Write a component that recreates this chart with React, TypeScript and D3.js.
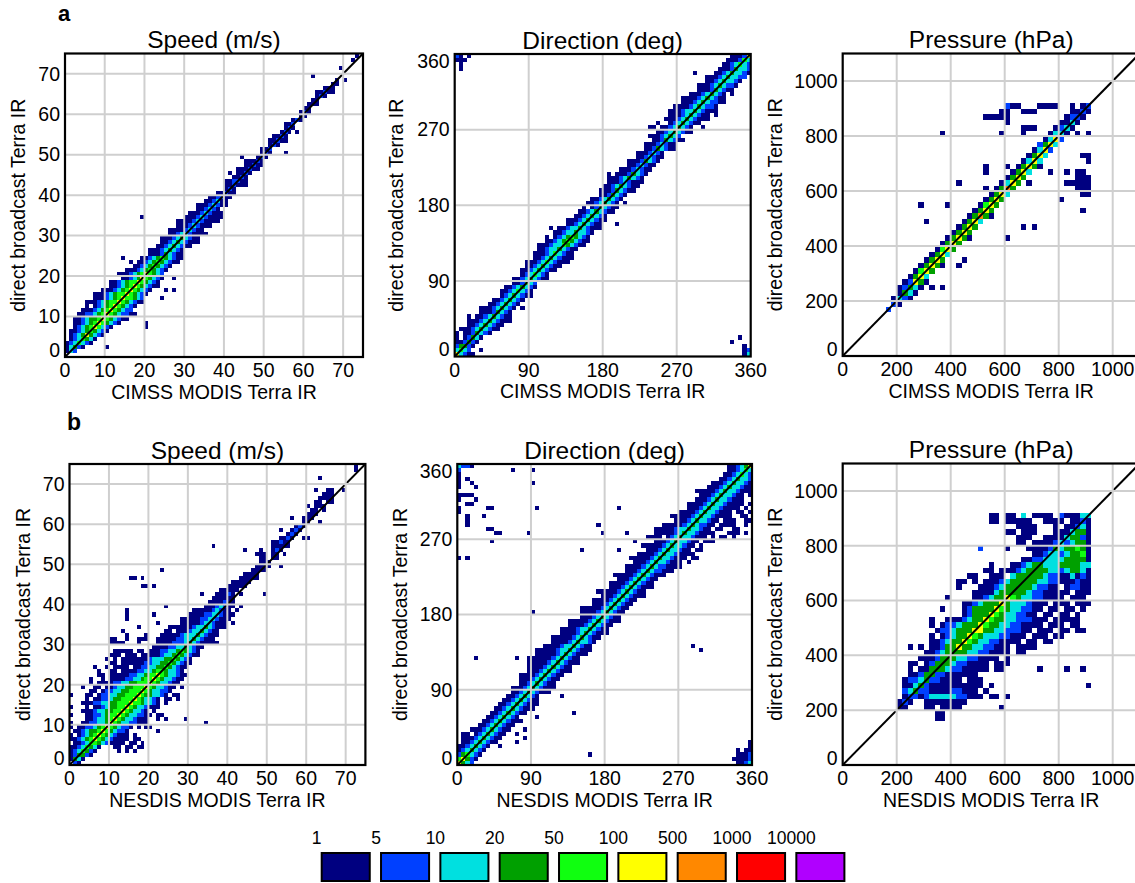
import React from "react";
import * as d3 from "d3";

type Run = [number, number, string];

const levelColors = ["#000080", "#0040ff", "#00e0e0", "#00a000", "#10ff10", "#ffff00", "#ff8800", "#ff0000", "#b000ff"];
const legendLabels = ["1", "5", "10", "20", "50", "100", "500", "1000", "10000"];

const speedTicks = [0, 10, 20, 30, 40, 50, 60, 70];
const directionTicks = [0, 90, 180, 270, 360];
const pressureTicks = [0, 200, 400, 600, 800, 1000];

// [row bin, first column bin, level codes (0 = empty, 1..9 = legend class)]
const cimssSpeed: Run[] = [
  [1, 0, "132"], [2, 0, "13421"], [2, 10, "1"], [3, 0, "1235321"], [4, 1, "1235431"], [5, 1, "123464321"],
  [6, 1, "1123454321"], [7, 2, "1234565321"], [7, 20, "1"], [8, 2, "112345654321"], [8, 20, "1"],
  [9, 2, "11234456543211"], [10, 3, "112234565432211"], [11, 4, "1112345654322"], [12, 5, "1012345654321"],
  [13, 5, "111234556543211"], [14, 7, "1112345655432"], [14, 24, "1"], [15, 7, "11123455654321"],
  [16, 9, "1112345654321000101"], [17, 11, "1123456543211"], [18, 11, "1123455654321"],
  [19, 14, "11234654321001"], [20, 13, "111234565432"], [21, 15, "11123454321"], [22, 17, "1123454321"],
  [23, 16, "1011234543211"], [24, 14, "1000011234543211"], [25, 21, "111243211"], [26, 21, "111234321"],
  [27, 23, "112343211"], [28, 24, "1123432111"], [29, 24, "1112343211"], [30, 26, "1123321111"],
  [31, 26, "111123211"], [32, 28, "111232111"], [33, 28, "11112321111"], [34, 19, "100000000001112321111"],
  [35, 31, "111232111"], [36, 33, "112321"], [37, 33, "11123211"], [38, 35, "112311"], [39, 36, "112211"],
  [40, 38, "11211"], [41, 40, "121"], [42, 40, "112111"], [43, 40, "112211"], [44, 42, "1121"],
  [45, 41, "101121"], [46, 43, "111211"], [47, 45, "11211"], [48, 45, "11121"], [49, 44, "1000121"],
  [50, 49, "121"], [50, 55, "1"], [51, 49, "112"], [52, 51, "121"], [53, 51, "11211"], [54, 52, "1121"],
  [55, 54, "12101"], [56, 55, "121"], [57, 55, "112"], [58, 57, "121"], [59, 59, "11"], [60, 59, "121"],
  [61, 60, "11"], [62, 61, "111"], [63, 62, "11"], [64, 63, "121"], [65, 63, "11211"], [66, 65, "111"],
  [67, 67, "11"], [68, 68, "101"], [69, 62, "1"], [71, 69, "1"], [73, 72, "1"], [74, 73, "1"],
];

const cimssDirection: Run[] = [
  [0, 0, "63211"], [0, 70, "13"], [1, 0, "3532"], [1, 6, "1"], [1, 70, "12"], [2, 0, "24421"], [2, 70, "1"],
  [3, 0, "112421"], [3, 67, "1"], [4, 0, "1012431"], [4, 69, "1"], [5, 0, "101124321"], [6, 1, "1112343211"],
  [7, 3, "112343211"], [8, 3, "11123432111"], [9, 3, "10112343211"], [10, 6, "11124321"], [11, 6, "11123432101"],
  [12, 8, "11234321"], [13, 9, "11234321"], [14, 11, "12343211"], [15, 11, "11235321"], [16, 12, "11234321"],
  [17, 14, "112532"], [18, 14, "112343211"], [19, 16, "1235321"], [20, 16, "112343211"], [21, 17, "112343211"],
  [22, 17, "11123532111"], [23, 19, "1123432111"], [24, 19, "1112353211"], [25, 20, "1123343211"],
  [26, 20, "111233543211"], [27, 22, "11234543211"], [28, 22, "10123454321"], [29, 24, "1123343321"],
  [30, 23, "1011233432111"], [31, 27, "1123432110001"], [32, 27, "1112343211"], [33, 29, "11234321"],
  [34, 30, "112343211"], [35, 31, "101243211"], [36, 32, "1123432101"], [37, 33, "11234321"], [38, 35, "1124321"],
  [39, 35, "111243211"], [40, 36, "112343211"], [41, 37, "111232111"], [42, 37, "111234321"],
  [43, 37, "1011124321"], [44, 40, "11123211"], [45, 42, "1123211"], [46, 42, "11124321"], [47, 44, "1123211"],
  [48, 44, "1112321"], [49, 46, "11243211"], [50, 46, "11123211"], [51, 48, "11243211"], [52, 47, "11123432"],
  [53, 49, "112343211"], [54, 47, "11011234321001"], [55, 49, "10012343211"], [56, 51, "11123432111"],
  [57, 52, "111234321101"], [58, 52, "111233432111"], [59, 53, "11112343221"], [60, 55, "11123432211"],
  [61, 55, "11112343211"], [62, 57, "11123432101"], [63, 59, "111243211"], [64, 59, "1112343221"],
  [65, 61, "112343321"], [66, 61, "1112343322"], [67, 58, "10000112343321"], [68, 64, "11124332"], [68, 1, "1"],
  [69, 65, "1123532"], [69, 1, "1"], [70, 66, "111253"], [70, 0, "111"], [71, 67, "11126"], [71, 0, "2101"],
];

const cimssPressure: Run[] = [
  [8, 8, "2"], [9, 9, "21"], [10, 9, "1321"], [11, 10, "1431"], [12, 10, "12431"], [12, 16, "1"], [12, 18, "1"],
  [13, 11, "12641"], [14, 12, "1463"], [15, 13, "1564"], [16, 14, "14641"], [16, 21, "1"], [17, 15, "1464"],
  [17, 22, "1"], [18, 16, "1463"], [19, 17, "1564"], [20, 18, "1464"], [21, 19, "14641"], [21, 30, "1"],
  [22, 20, "1464"], [23, 21, "1464"], [23, 33, "101"], [24, 22, "1463"], [24, 15, "1"], [25, 23, "14741"],
  [26, 24, "1464"], [26, 44, "1"], [27, 25, "1564"], [27, 14, "1"], [27, 19, "1"], [28, 26, "1464"], [28, 40, "1"],
  [29, 27, "1463"], [29, 44, "11"], [30, 28, "1474"], [30, 26, "1"], [30, 43, "111"], [31, 21, "1"],
  [31, 29, "1364"], [31, 34, "1"], [31, 41, "11111"], [32, 30, "1464"], [32, 43, "111"], [33, 31, "1463"],
  [33, 26, "1"], [33, 38, "1"], [33, 41, "1011"], [34, 32, "1464"], [34, 26, "1"], [34, 30, "1"], [34, 36, "1"],
  [35, 33, "1363"], [35, 45, "1"], [36, 34, "1463"], [36, 44, "11"], [37, 35, "1362"], [38, 36, "2463"],
  [39, 37, "1362"], [40, 38, "1331"], [40, 18, "1"], [40, 29, "1"], [40, 33, "1"], [40, 43, "101"],
  [41, 39, "1231"], [41, 33, "111"], [42, 40, "1131"], [42, 30, "1"], [43, 41, "1221"], [43, 26, "11"],
  [43, 28, "111"], [44, 42, "1121"], [44, 29, "11"], [44, 33, "111"], [45, 30, "211"], [45, 36, "111"],
  [45, 39, "1"], [45, 42, "1"], [45, 44, "12"],
];

const nesdisSpeed: Run[] = [
  [0, 1, "21"], [1, 0, "1431"], [2, 0, "124421"], [3, 0, "1235421"], [3, 12, "10101"], [4, 0, "11235431"],
  [4, 11, "11011011"], [5, 1, "1123554321"], [5, 11, "11101101"], [6, 0, "11234565432"], [6, 11, "1111011"],
  [7, 0, "1012345654321"], [7, 13, "1101"], [8, 1, "11234456543221"], [8, 22, "1"], [9, 0, "1"],
  [9, 2, "1122345654322101"], [9, 19, "11"], [10, 0, "1"], [10, 3, "11223346543322111"], [10, 34, "1"],
  [11, 4, "1123345654332111"], [11, 22, "101"], [11, 29, "1"], [12, 0, "1"], [12, 4, "11223455654332211"],
  [12, 22, "11"], [13, 3, "1112334455654332101"], [14, 0, "1"], [14, 4, "1011234455654332111"],
  [15, 3, "1112233445556554332101"], [16, 4, "1011223445556543321"], [16, 24, "1101"], [17, 0, "1"],
  [17, 4, "110122334455565443321011"], [18, 5, "110122334455565433221"], [19, 3, "1"],
  [19, 6, "11011233445556543321101"], [20, 5, "10111122334455565433211"], [21, 5, "1"],
  [21, 8, "101111223345565433211"], [22, 7, "11011111223345565433211"], [23, 7, "1"],
  [23, 10, "1101111223345543321"], [24, 6, "1"], [24, 9, "101111011223344543211"],
  [25, 10, "110111111223344543211"], [26, 9, "1"], [26, 11, "10111111123334454321"],
  [27, 10, "11101110111112334543211"], [28, 11, "11111011"], [28, 20, "1112233454321"],
  [29, 21, "1111223343211"], [30, 10, "1111"], [30, 17, "1"], [30, 22, "1111222343211111"], [31, 10, "11"],
  [31, 14, "1"], [31, 17, "111"], [31, 22, "111112233432111"], [32, 14, "1"], [32, 19, "1"],
  [32, 23, "111112333432111"], [33, 13, "1"], [33, 24, "11011123343211"], [34, 17, "1"],
  [34, 25, "111111233432111"], [35, 22, "1"], [35, 28, "11111233211101"], [36, 14, "1"],
  [36, 28, "1111122332111"], [37, 14, "1"], [37, 21, "1"], [37, 30, "111122332111"], [38, 14, "1"],
  [38, 31, "111112321101"], [39, 24, "1"], [39, 34, "1112321101"], [40, 35, "1111211"], [41, 36, "111111"],
  [42, 33, "1"], [42, 37, "1112101"], [42, 49, "1"], [43, 38, "11111"], [44, 18, "11"], [44, 21, "1"],
  [44, 40, "11111"], [45, 41, "11111"], [46, 15, "11"], [46, 18, "1"], [46, 43, "11111"], [47, 44, "1111"],
  [48, 23, "1"], [48, 46, "1111"], [49, 47, "1111"], [49, 53, "1"], [50, 48, "111"], [51, 48, "11011"],
  [52, 47, "111"], [52, 51, "11"], [52, 54, "1"], [53, 44, "1"], [53, 48, "1"], [53, 51, "121"], [54, 36, "1"],
  [54, 51, "11111"], [55, 51, "11211"], [56, 53, "1121"], [56, 59, "11"], [57, 55, "121"], [58, 53, "1"],
  [58, 56, "121"], [59, 57, "121"], [60, 59, "11"], [60, 63, "1"], [61, 56, "1"], [61, 59, "111"],
  [62, 60, "111"], [63, 61, "11"], [63, 64, "1"], [64, 60, "1"], [64, 62, "111"], [65, 62, "1101"],
  [65, 66, "1"], [66, 63, "1111"], [67, 64, "111"], [68, 62, "1"], [68, 65, "11"], [68, 69, "1"],
  [71, 63, "1"], [73, 72, "1"], [74, 72, "1"],
];

const nesdisDirection: Run[] = [
  [0, 0, "6432"], [0, 68, "1123"], [1, 0, "56421"], [1, 67, "11112"], [2, 0, "245321"], [2, 68, "1112"],
  [2, 32, "1"], [3, 0, "1234321"], [3, 68, "1011"], [4, 0, "11234321"], [4, 10, "1"], [4, 71, "1"],
  [5, 1, "112343211"], [5, 14, "1"], [5, 71, "1"], [6, 1, "1112343211"], [6, 16, "1"], [7, 1, "11012343211"],
  [7, 14, "1"], [8, 3, "1112343211"], [8, 16, "1"], [9, 5, "112343211"], [10, 6, "1123432111"],
  [11, 7, "11234321"], [11, 19, "1"], [12, 8, "112343211"], [12, 28, "1"], [13, 9, "1123432111"],
  [14, 10, "1123432111"], [15, 11, "112343211"], [16, 12, "11234321"], [16, 25, "1"], [17, 13, "1123432111"],
  [18, 13, "11123432111"], [19, 15, "112343211"], [20, 15, "1112343211"], [21, 15, "11112343211"],
  [22, 17, "11123432111"], [23, 17, "11112343211"], [24, 17, "1111123432111"], [25, 17, "1111112343211"],
  [25, 4, "1"], [25, 14, "1"], [26, 19, "1111123432111"], [27, 19, "11111233432111"], [27, 59, "1"],
  [28, 21, "111123343211"], [28, 57, "1"], [29, 23, "11112343321"], [30, 23, "111112343211"],
  [31, 25, "111123432111"], [32, 25, "111123343211"], [33, 27, "11112343211"], [34, 27, "1111123432111"],
  [35, 30, "1112343211"], [36, 30, "11112343211"], [36, 18, "1"], [37, 30, "111112343211"],
  [38, 33, "1112343211"], [39, 33, "11112343211"], [40, 35, "11123432111"], [41, 34, "111112343211"],
  [42, 37, "11123432111"], [43, 37, "11112343211"], [44, 39, "1112343211"], [45, 38, "1111123432111"],
  [46, 41, "111234322111"], [47, 41, "11112343221111"], [48, 43, "11123433211101"],
  [49, 42, "11111234332111011"], [49, 0, "1"], [49, 2, "1"], [50, 44, "11112343321111"],
  [51, 46, "11123433211011"], [51, 30, "1"], [51, 39, "1"], [52, 45, "111112343321101"],
  [53, 48, "111234332110111"], [53, 8, "1"], [53, 43, "1"], [54, 46, "11110123433211101"], [54, 64, "1101"],
  [55, 48, "111112343321111"], [55, 9, "11"], [55, 17, "1"], [55, 35, "1"], [55, 41, "1"], [55, 66, "111"],
  [55, 70, "1"], [56, 48, "11111233433211011"], [56, 7, "11"], [56, 67, "11"], [57, 50, "111112343221101111"],
  [57, 34, "1"], [57, 2, "1"], [57, 70, "1"], [58, 53, "111234332110111"], [58, 2, "1"], [58, 70, "11"],
  [59, 52, "111112343321111"], [59, 2, "1"], [59, 6, "1"], [59, 69, "11"], [60, 54, "1111234332111011"],
  [60, 0, "1"], [60, 71, "1"], [61, 56, "1112343321111"], [61, 0, "1"], [61, 7, "11"], [61, 19, "1"],
  [61, 39, "1"], [61, 70, "1"], [62, 56, "11112343321111"], [62, 2, "11"], [62, 71, "1"],
  [63, 58, "111234332111"], [63, 4, "1"], [63, 0, "1"], [64, 59, "11123433211"], [64, 0, "1111"], [64, 71, "1"],
  [65, 58, "11111234332111"], [66, 61, "11123433211"], [66, 0, "1"], [66, 4, "1"], [67, 62, "1112343321"],
  [67, 0, "1"], [67, 3, "1"], [67, 18, "1"], [68, 64, "11234332"], [68, 0, "1"], [68, 2, "1"],
  [69, 65, "1123532"], [69, 0, "1"], [70, 66, "112353"], [70, 0, "2"], [70, 13, "1"], [70, 18, "1"],
  [71, 66, "112346"], [71, 0, "3221"],
];

const nesdisPressure: Run[] = [
  [8, 17, "11"], [9, 17, "11"], [10, 10, "11000110111100000001"], [11, 10, "1210011111111"],
  [12, 11, "12212333332211101101"], [13, 11, "2342211112211101"], [14, 11, "11342111111111101"], [14, 45, "1"],
  [15, 11, "122342211110111"], [16, 12, "1124422111111"], [17, 12, "101144432211111011"], [17, 36, "1"],
  [17, 41, "1"], [17, 44, "1"], [18, 12, "1101244432211110111"], [19, 14, "11124443322111101"],
  [20, 15, "1123444433221111011"], [21, 12, "1"], [21, 14, "1011244644332211101111"],
  [22, 16, "11234465433221111011011"], [23, 16, "1012344654333221110111011"],
  [24, 17, "1223444664433222110111011011"], [25, 16, "1012234446544332211110111011"], [26, 16, "1"],
  [26, 19, "1112344654433222111011111"], [27, 22, "1244465433221101101101"],
  [28, 18, "100012444465433221101101101"], [29, 22, "112344464333211101110111"], [30, 19, "1"],
  [30, 24, "112344654332211110111"], [31, 24, "1111344444322111110111"], [32, 21, "1000111234444432211012211"],
  [33, 21, "1101011123444443322111211"], [34, 23, "11001110344444322113121"], [35, 26, "11"],
  [35, 29, "11123444433234431"], [36, 27, "1"], [36, 31, "112344333444433"], [37, 33, "1122333344441"],
  [38, 35, "11233234451"], [39, 25, "2"], [39, 30, "1"], [39, 34, "111124344541"], [40, 32, "11011112323441"],
  [41, 32, "11100111134421"], [42, 30, "11"], [42, 33, "1110001113441"], [43, 32, "11110001011231"],
  [44, 27, "11"], [44, 30, "1111100111101121"], [45, 27, "1101103011110211133"],
];

const FONT = "'Liberation Sans', Arial, Helvetica, sans-serif";

interface PanelSpec {
  data: Run[];
  bin: number;
  max: number;
  ticks: number[];
  title: string;
  xLabel: string;
  box: [number, number, number, number];
  yLabelOffset: number;
}

const panelSpecs: PanelSpec[] = [
  { data: cimssSpeed, bin: 1, max: 75, ticks: speedTicks, title: "Speed (m/s)", xLabel: "CIMSS MODIS Terra IR", box: [65, 363, 53.5, 357], yLabelOffset: 40 },
  { data: cimssDirection, bin: 5, max: 360, ticks: directionTicks, title: "Direction (deg)", xLabel: "CIMSS MODIS Terra IR", box: [454.7, 750.7, 54, 356.5], yLabelOffset: 51.4 },
  { data: cimssPressure, bin: 20, max: 1100, ticks: pressureTicks, title: "Pressure (hPa)", xLabel: "CIMSS MODIS Terra IR", box: [842.7, 1139.7, 53.5, 356], yLabelOffset: 61 },
  { data: nesdisSpeed, bin: 1, max: 75, ticks: speedTicks, title: "Speed (m/s)", xLabel: "NESDIS MODIS Terra IR", box: [69.5, 365.4, 464, 765], yLabelOffset: 39.5 },
  { data: nesdisDirection, bin: 5, max: 360, ticks: directionTicks, title: "Direction (deg)", xLabel: "NESDIS MODIS Terra IR", box: [457.3, 752, 464, 765], yLabelOffset: 50.6 },
  { data: nesdisPressure, bin: 20, max: 1100, ticks: pressureTicks, title: "Pressure (hPa)", xLabel: "NESDIS MODIS Terra IR", box: [842.7, 1139.7, 463.5, 765], yLabelOffset: 61 },
];

const color = d3.scaleOrdinal<string, string>().domain(["1", "2", "3", "4", "5", "6", "7", "8", "9"]).range(levelColors);

function Panel({ spec, id }: { spec: PanelSpec; id: number }) {
  const [x0, x1, y0, y1] = spec.box;
  const x = d3.scaleLinear().domain([0, spec.max]).range([x0, x1]);
  const y = d3.scaleLinear().domain([0, spec.max]).range([y1, y0]);
  const rects: React.ReactElement[] = [];
  spec.data.forEach(([row, start, codes], i) => {
    for (let k = 0; k < codes.length; k++) {
      const c = codes[k];
      if (c === "0") continue;
      const col = start + k;
      const xa = x(col * spec.bin);
      const xb = x((col + 1) * spec.bin);
      const ya = y((row + 1) * spec.bin);
      const yb = y(row * spec.bin);
      rects.push(<rect key={`${i}-${k}`} x={xa} y={ya} width={xb - xa} height={yb - ya} fill={color(c)} />);
    }
  });
  const inner = spec.ticks.filter((t) => t > 0 && t < spec.max);
  const cy = (y0 + y1) / 2;
  const cx = (x0 + x1) / 2;
  return (
    <g>
      <defs>
        <clipPath id={`clip${id}`}>
          <rect x={x0} y={y0} width={x1 - x0} height={y1 - y0} />
        </clipPath>
      </defs>
      <g clipPath={`url(#clip${id})`}>
        <g shapeRendering="crispEdges">{rects}</g>
        <line x1={x(0)} y1={y(0)} x2={x(spec.max)} y2={y(spec.max)} stroke="#000" strokeWidth={2} />
        {inner.map((t) => (
          <line key={`gx${t}`} x1={x(t)} x2={x(t)} y1={y0} y2={y1} stroke="#cfcfcf" strokeWidth={2} />
        ))}
        {inner.map((t) => (
          <line key={`gy${t}`} y1={y(t)} y2={y(t)} x1={x0} x2={x1} stroke="#cfcfcf" strokeWidth={2} />
        ))}
      </g>
      <rect x={x0} y={y0} width={x1 - x0} height={y1 - y0} fill="none" stroke="#000" strokeWidth={2.2} />
      <text x={cx} y={y0 - 5.5} textAnchor="middle" fontSize={24.5} fontFamily={FONT}>{spec.title}</text>
      {spec.ticks.map((t) => (
        <text key={`tx${t}`} x={x(t)} y={y1 + 20} textAnchor="middle" fontSize={19.5} fontFamily={FONT}>{t}</text>
      ))}
      {spec.ticks.map((t) => (
        <text key={`ty${t}`} x={x0 - 5} y={Math.min(Math.max(y(t), y0 + 7), y1 - 7)} dy="0.35em" textAnchor="end" fontSize={19.5} fontFamily={FONT}>{t}</text>
      ))}
      <text x={cx} y={y1 + 41.5} textAnchor="middle" fontSize={19.5} fontFamily={FONT}>{spec.xLabel}</text>
      <text transform={`translate(${x0 - spec.yLabelOffset},${cy}) rotate(-90)`} textAnchor="middle" fontSize={19.5} fontFamily={FONT}>direct broadcast Terra IR</text>
    </g>
  );
}

function Legend() {
  const band = d3.scaleBand<string>().domain(legendLabels).range([321.7, 844.4]).paddingInner(0.19).paddingOuter(0);
  return (
    <g>
      {legendLabels.map((l, i) => (
        <g key={l}>
          <rect x={band(l)!} y={853} width={band.bandwidth()} height={28} fill={levelColors[i]} stroke="#000" strokeWidth={2} />
          <text x={band(l)! - 5} y={844} textAnchor="middle" fontSize={17.5} fontFamily={FONT}>{l}</text>
        </g>
      ))}
    </g>
  );
}

export default function App() {
  return (
    <svg width={1135} height={883} style={{ position: "absolute", left: 0, top: 0, background: "#fff" }}>
      <rect width={1135} height={883} fill="#fff" />
      {panelSpecs.map((s, i) => (
        <Panel key={i} spec={s} id={i} />
      ))}
      <text x={58} y={21} fontSize={22} fontWeight="bold" fontFamily={FONT}>a</text>
      <text x={67} y={430} fontSize={23} fontWeight="bold" fontFamily={FONT}>b</text>
      <Legend />
    </svg>
  );
}
